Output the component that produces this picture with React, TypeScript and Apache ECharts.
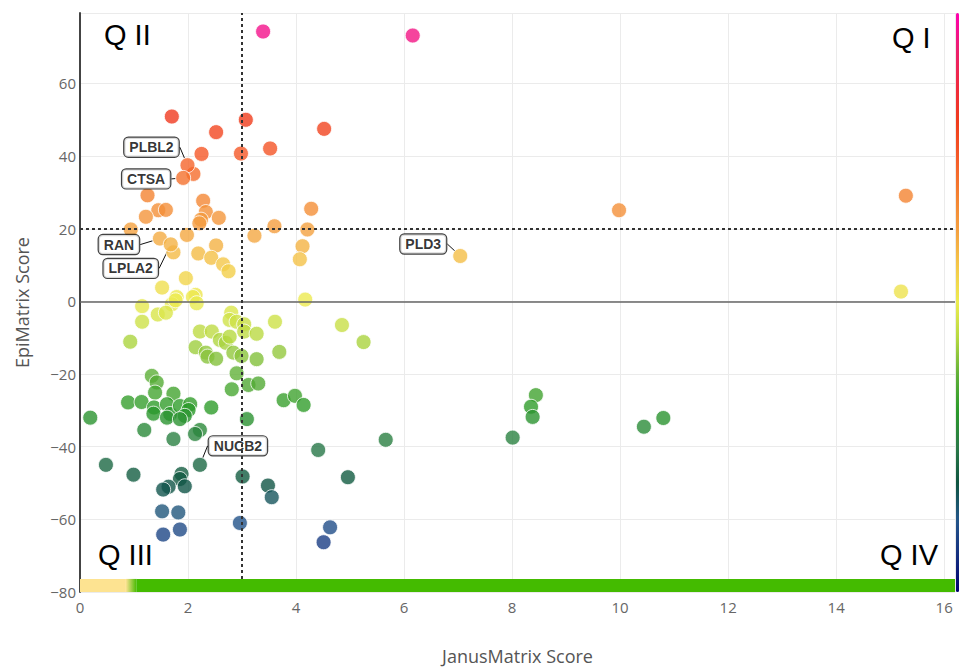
import React, { useEffect, useRef } from 'react';
import * as echarts from 'echarts';

// JanusMatrix (x) and EpiMatrix (y) scores of unlabelled peptides/proteins
const janus = [
  3.39, 6.16, 1.70, 2.52, 3.07, 4.52, 3.52, 2.25, 2.98, 2.10,
  1.25, 1.45, 1.59, 1.22, 2.28, 2.33, 2.24, 2.21, 2.57, 4.28,
  0.94, 1.98, 3.60, 4.21, 3.23, 1.73, 2.52, 2.19, 2.43, 2.65,
  2.75, 4.12, 4.07, 1.96, 1.52, 2.14, 1.79, 2.09, 2.16, 1.70,
  1.77, 4.17, 1.15, 1.44, 1.59, 1.15, 0.93, 2.80, 2.77, 2.90,
  3.04, 3.04, 3.61, 4.85, 5.25, 2.22, 2.44, 2.59, 2.70, 2.77,
  3.27, 2.14, 2.33, 2.36, 2.52, 2.84, 2.99, 3.27, 3.69, 2.90,
  2.81, 3.12, 3.30, 1.33, 1.42, 1.39, 1.73, 0.89, 1.14, 1.37,
  1.36, 1.61, 1.67, 1.61, 1.85, 2.04, 2.01, 1.94, 1.85, 2.43,
  3.09, 0.19, 1.19, 2.22, 2.13, 1.73, 3.77, 3.98, 4.14, 5.66,
  4.41, 0.48, 0.99, 3.01, 4.96, 1.88, 1.85, 1.94, 1.64, 1.54,
  3.48, 3.55, 1.52, 1.82, 1.85, 1.54, 2.96, 4.63, 4.51, 8.44,
  8.35, 8.38, 8.01, 10.44, 10.80, 9.98, 15.29, 15.20,
];
const epi = [
  74.3, 73.2, 50.9, 46.6, 50.0, 47.5, 42.1, 40.6, 40.7, 35.1,
  29.2, 25.1, 25.2, 23.3, 27.7, 24.6, 22.5, 21.5, 23.0, 25.5,
  19.8, 18.3, 20.7, 19.8, 18.1, 13.5, 15.4, 13.2, 12.0, 10.2,
  8.3, 15.2, 11.6, 6.4, 3.8, 1.8, 1.2, 1.2, -0.5, -0.8,
  0.3, 0.5, -1.3, -3.6, -3.1, -5.6, -11.1, -3.1, -5.1, -5.6,
  -6.3, -8.3, -5.6, -6.5, -11.2, -8.3, -8.3, -10.6, -11.4, -9.7,
  -8.9, -12.6, -14.1, -15.2, -15.8, -14.1, -15.0, -15.9, -13.9, -19.8,
  -24.2, -23.0, -22.6, -20.5, -22.3, -25.1, -25.4, -27.8, -27.7, -29.2,
  -30.9, -28.3, -31.0, -32.0, -28.8, -28.3, -29.9, -31.5, -32.4, -29.2,
  -32.4, -32.0, -35.4, -35.4, -36.5, -37.9, -27.2, -26.0, -28.5, -38.1,
  -40.9, -45.0, -47.7, -48.2, -48.4, -47.5, -48.9, -50.9, -51.0, -51.8,
  -50.7, -53.9, -57.8, -58.1, -62.8, -64.2, -61.0, -62.2, -66.3, -25.8,
  -29.0, -31.8, -37.5, -34.5, -32.1, 25.1, 29.1, 2.7,
];

// Labelled genes
const labelGenes = ['PLBL2', 'CTSA', 'RAN', 'LPLA2', 'PLD3', 'NUCB2'];
const labelJanus = [1.99, 1.91, 1.48, 1.68, 7.04, 2.22];
const labelEpi = [37.5, 34.0, 17.3, 15.7, 12.5, -45.0];

const xTickInterval = 2;
const yTickInterval = 20;
const janusThreshold = 3;
const epiThreshold = 20;
const quadrants = ['Q I', 'Q II', 'Q III', 'Q IV'];

// colour scale of EpiMatrix score from -80 to 80 (every 10)
const colorScale = [
  '#000070', '#142f80', '#24568a', '#0e5540', '#2a7a48', '#2a9a2a', '#60b038',
  '#b4d840', '#ecec50', '#f4c848', '#f4a040', '#f48030', '#f55a28', '#f03c1c',
  '#f02a40', '#ec1f6f', '#ff00b0',
];

// label box offsets (style)
const labelOffsets: Record<string, [number, number]> = {
  PLBL2: [-36, -18],
  CTSA: [-37, 1],
  RAN: [-41, 6],
  LPLA2: [-40, 24],
  PLD3: [-37, -12],
  NUCB2: [38, -19],
};

const FONT = 'Open Sans';

export default function App() {
  const ref = useRef<HTMLDivElement>(null);
  useEffect(() => {
    if (!ref.current) return;
    const chart = echarts.init(ref.current, undefined, { renderer: 'svg' });
    const points: any[] = janus.map((x, i) => [x, epi[i]]);
    const labelled = labelGenes.map((g, i) => ({
      name: g,
      value: [labelJanus[i], labelEpi[i]],
      label: {
        show: true,
        formatter: g,
        position: 'inside',
        color: '#000',
        fontWeight: 'bold',
        fontSize: 14,
        fontFamily: 'Liberation Sans',
        backgroundColor: '#fff',
        borderColor: '#111',
        borderWidth: 1.2,
        borderRadius: 4,
        padding: [3, 5, 2, 5],
      },
      labelLine: { show: true, lineStyle: { color: '#111', width: 1 } },
    }));
    const nLab = points.length;
    const axisLabelFmt = (v: number) => (v < 0 ? '\u2212' + Math.abs(v) : String(v));
    const option: any = {
      animation: false,
      backgroundColor: '#fff',
      grid: { left: 80, right: 4, top: 13, bottom: 75, outerBoundsMode: 'none', containLabel: false },
      xAxis: {
        type: 'value',
        min: 0,
        max: 16.2,
        interval: xTickInterval,
        axisLine: { show: false },
        axisTick: { show: false },
        splitLine: { lineStyle: { color: '#ebebeb', width: 1 } },
        axisLabel: {
          color: '#666',
          fontSize: 15,
          fontFamily: FONT,
          margin: 7,
          showMaxLabel: false,
          formatter: axisLabelFmt,
        },
        name: 'JanusMatrix Score',
        nameLocation: 'middle',
        nameGap: 55,
        nameTextStyle: { color: '#555', fontSize: 18, fontFamily: FONT },
      },
      yAxis: {
        type: 'value',
        min: -80,
        max: 79.4,
        interval: yTickInterval,
        axisLine: { show: true, onZero: false, lineStyle: { color: '#444', width: 2 } },
        axisTick: { show: false },
        splitLine: { lineStyle: { color: '#ebebeb', width: 1 } },
        axisLabel: {
          color: '#666',
          fontSize: 15,
          fontFamily: FONT,
          margin: 4,
          showMaxLabel: false,
          formatter: axisLabelFmt,
        },
        name: 'EpiMatrix Score',
        nameLocation: 'middle',
        nameGap: 49,
        nameTextStyle: { color: '#555', fontSize: 18, fontFamily: FONT },
      },
      visualMap: {
        type: 'continuous',
        min: -80,
        max: 80,
        dimension: 1,
        seriesIndex: 0,
        inRange: { color: colorScale },
        show: true,
        calculable: false,
        hoverLink: false,
        right: 0,
        top: 13,
        itemWidth: 3,
        itemHeight: 579,
        padding: 0,
      },
      graphic: [
        { type: 'text', x: 104, y: 35, style: { text: quadrants[1], font: '29px "Liberation Sans"', fill: '#000', textAlign: 'left', textVerticalAlign: 'middle' } },
        { type: 'text', x: 892, y: 38, style: { text: quadrants[0], font: '29px "Liberation Sans"', fill: '#000', textAlign: 'left', textVerticalAlign: 'middle' } },
        { type: 'text', x: 98, y: 555, style: { text: quadrants[2], font: '29px "Liberation Sans"', fill: '#000', textAlign: 'left', textVerticalAlign: 'middle' } },
        { type: 'text', x: 880, y: 555, style: { text: quadrants[3], font: '29px "Liberation Sans"', fill: '#000', textAlign: 'left', textVerticalAlign: 'middle' } },
      ],
      series: [
        {
          type: 'scatter',
          z: 3,
          data: [...points, ...labelled],
          symbolSize: 15,
          itemStyle: { opacity: 0.8, borderColor: '#fff', borderWidth: 1 },
          labelLayout: (params: any) => {
            const idx = params.dataIndex - nLab;
            if (idx < 0) return {};
            const off = labelOffsets[labelGenes[idx]] || [0, 0];
            return { dx: off[0], dy: off[1] };
          },
          markLine: {
            silent: true,
            symbol: 'none',
            label: { show: false },
            data: [
              { yAxis: 0, lineStyle: { color: '#666', width: 1.5, type: 'solid' } },
              [
                { coord: [janusThreshold, -76.4], lineStyle: { color: '#333', width: 2, type: [3, 3] } },
                { coord: [janusThreshold, 79.4] },
              ],
              { yAxis: epiThreshold, lineStyle: { color: '#333', width: 2, type: [3, 3] } },
            ],
          },
        },
        {
          type: 'line',
          z: 6,
          data: [],
          markArea: {
            silent: true,
            data: [
              [{ coord: [0, -80], itemStyle: { color: '#fde391' } }, { coord: [0.85, -76.4] }],
              [
                {
                  coord: [0.85, -80],
                  itemStyle: {
                    color: new echarts.graphic.LinearGradient(0, 0, 1, 0, [
                      { offset: 0, color: '#fde391' },
                      { offset: 1, color: '#44bb00' },
                    ]),
                  },
                },
                { coord: [1.05, -76.4] },
              ],
              [{ coord: [1.05, -80], itemStyle: { color: '#44bb00' } }, { coord: [16.2, -76.4] }],
            ],
          },
        },
      ],
    };
    chart.setOption(option);
    return () => chart.dispose();
  }, []);
  return <div ref={ref} style={{ width: 959, height: 667, position: 'absolute', left: 0, top: 0 }} />;
}
